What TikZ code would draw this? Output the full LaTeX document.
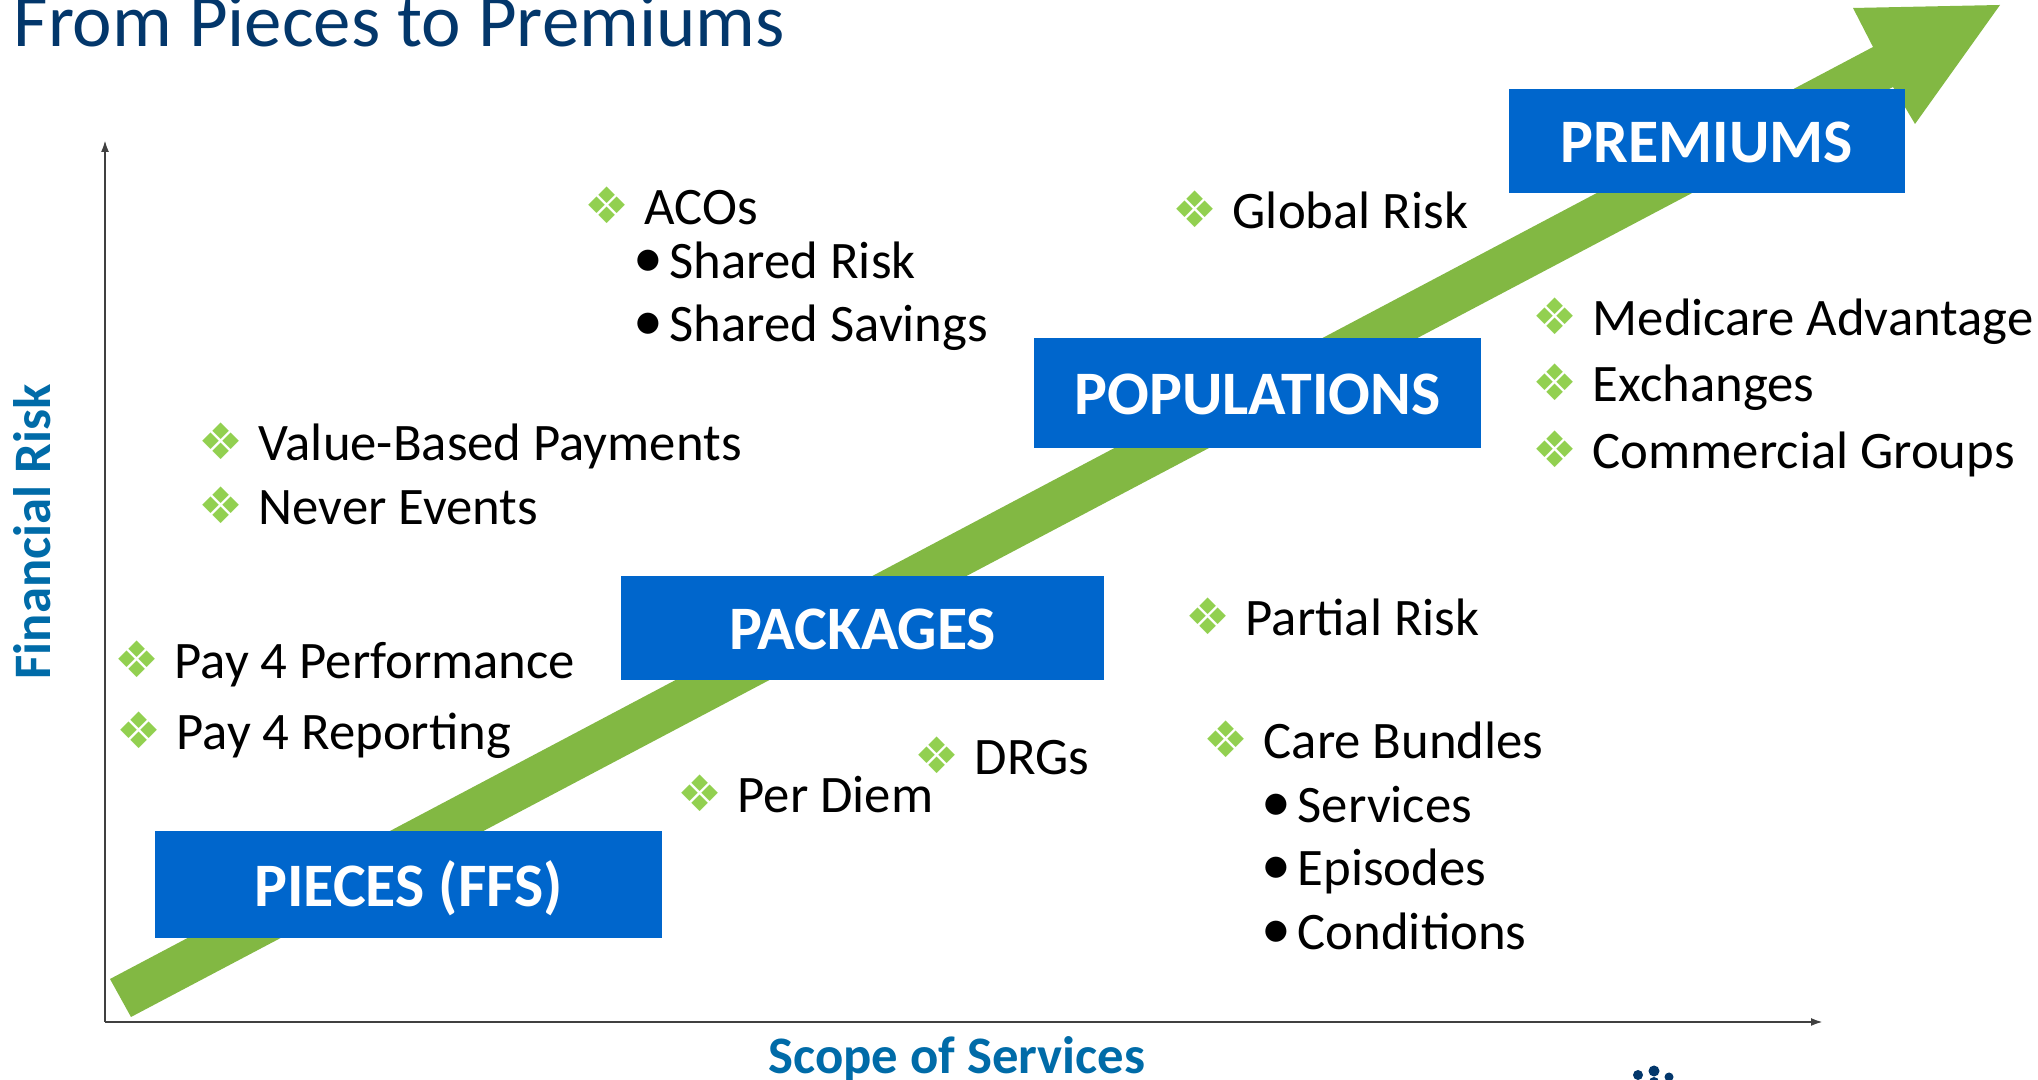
\documentclass[tikz,border=0pt]{standalone}
\usepackage{fontspec}
\setmainfont{Carlito}
\newfontfamily\symbfont{DejaVu Sans}
\usepackage{tikz}
\usetikzlibrary{arrows.meta}
\definecolor{arrowgreen}{HTML}{82B843}
\definecolor{bulletgreen}{HTML}{92D050}
\definecolor{boxblue}{HTML}{0066CC}
\definecolor{axisblue}{HTML}{006BA8}
\definecolor{titleblue}{HTML}{03376B}
\tikzset{
  stagebox/.style={fill=boxblue,text=white,font=\fontsize{17.6}{20}\selectfont\bfseries,inner sep=0pt,text height=0.43cm,text depth=0cm},
  baseitem/.style={anchor=west,inner sep=0pt,text height=0.46cm,text depth=0.13cm,font=\fontsize{15}{18}\selectfont},
  riskitem/.style={baseitem,label={[label distance=0.025cm,yshift=0.03cm,text=bulletgreen,font=\fontsize{14.3}{16}\selectfont\symbfont]left:\char"2756}},
  subitem/.style={baseitem,label={[label distance=-0.07cm,yshift=-0.02cm,font=\fontsize{17}{18}\selectfont]left:\textbullet}},
  axislabel/.style={text=axisblue,font=\fontsize{15}{18}\selectfont\bfseries,inner sep=0pt},
  axisline/.style={draw=black!75,line width=0.6pt,-{Latex[length=0.12cm,width=0.08cm]}}
}
\begin{document}
\begin{tikzpicture}
\useasboundingbox (0,0) rectangle (20.38,10.8);
\clip (0,0) rectangle (20.38,10.8);

% the rising arrow
\fill [arrowgreen] (1.10,1.01) -- (18.73,10.33) -- (18.53,10.72) -- (20.00,10.75) -- (19.15,9.56) -- (18.93,9.93) -- (1.31,0.63) -- cycle;

% axes
\coordinate (origin) at (1.05,0.58);
\coordinate (yend) at (1.05,9.4);
\coordinate (xend) at (18.23,0.58);
\draw [axisline] (origin) -- (yend);
\draw [axisline] (origin) -- (xend);
\node [axislabel] (xlabel) at (9.57,0.21) {Scope of Services};
\node [axislabel,rotate=90] (ylabel) at (0.32,5.48) {Financial Risk};

\node [anchor=base west,text=titleblue,inner sep=0pt,font=\fontsize{21.3}{24}\selectfont] (title) at (0.13,10.33) {From Pieces to Premiums};

% stages
\node [stagebox,minimum width=5.07cm,minimum height=1.07cm] (pieces) at (4.085,1.95) {PIECES (FFS)};
\node [stagebox,minimum width=4.83cm,minimum height=1.04cm] (packages) at (8.625,4.52) {PACKAGES};
\node [stagebox,minimum width=4.47cm,minimum height=1.10cm] (populations) at (12.575,6.87) {POPULATIONS};
\node [stagebox,minimum width=3.96cm,minimum height=1.04cm] (premiums) at (17.07,9.39) {PREMIUMS};

% left column
\node [riskitem] (valuebased) at (2.58,6.36) {Value-Based Payments};
\node [riskitem] (neverevents) at (2.58,5.72) {Never Events};
\node [riskitem] (performance) at (1.74,4.18) {Pay 4 Performance};
\node [riskitem] (reporting) at (1.76,3.47) {Pay 4 Reporting};

% top middle
\node [riskitem] (acos) at (6.44,8.72) {ACOs};
\node [subitem] (sharedrisk) at (6.69,8.18) {Shared Risk};
\node [subitem] (sharedsavings) at (6.69,7.55) {Shared Savings};

% bottom middle
\node [riskitem] (perdiem) at (7.37,2.84) {Per Diem};
\node [riskitem] (drgs) at (9.74,3.22) {DRGs};

% right of the arrow
\node [riskitem] (globalrisk) at (12.32,8.68) {Global Risk};
\node [riskitem] (medicare) at (15.92,7.61) {Medicare Advantage};
\node [riskitem] (exchanges) at (15.92,6.95) {Exchanges};
\node [riskitem] (commercial) at (15.92,6.28) {Commercial Groups};
\node [riskitem] (partialrisk) at (12.45,4.61) {Partial Risk};
\node [riskitem] (carebundles) at (12.63,3.38) {Care Bundles};
\node [subitem] (services) at (12.97,2.74) {Services};
\node [subitem] (episodes) at (12.97,2.11) {Episodes};
\node [subitem] (conditions) at (12.97,1.47) {Conditions};

% logo, cut off by the lower edge
\fill [titleblue] (16.38,0.05) circle (0.05) (16.54,0.09) circle (0.055) (16.69,0.03) circle (0.045) (16.54,-0.02) circle (0.05);
\end{tikzpicture}
\end{document}
